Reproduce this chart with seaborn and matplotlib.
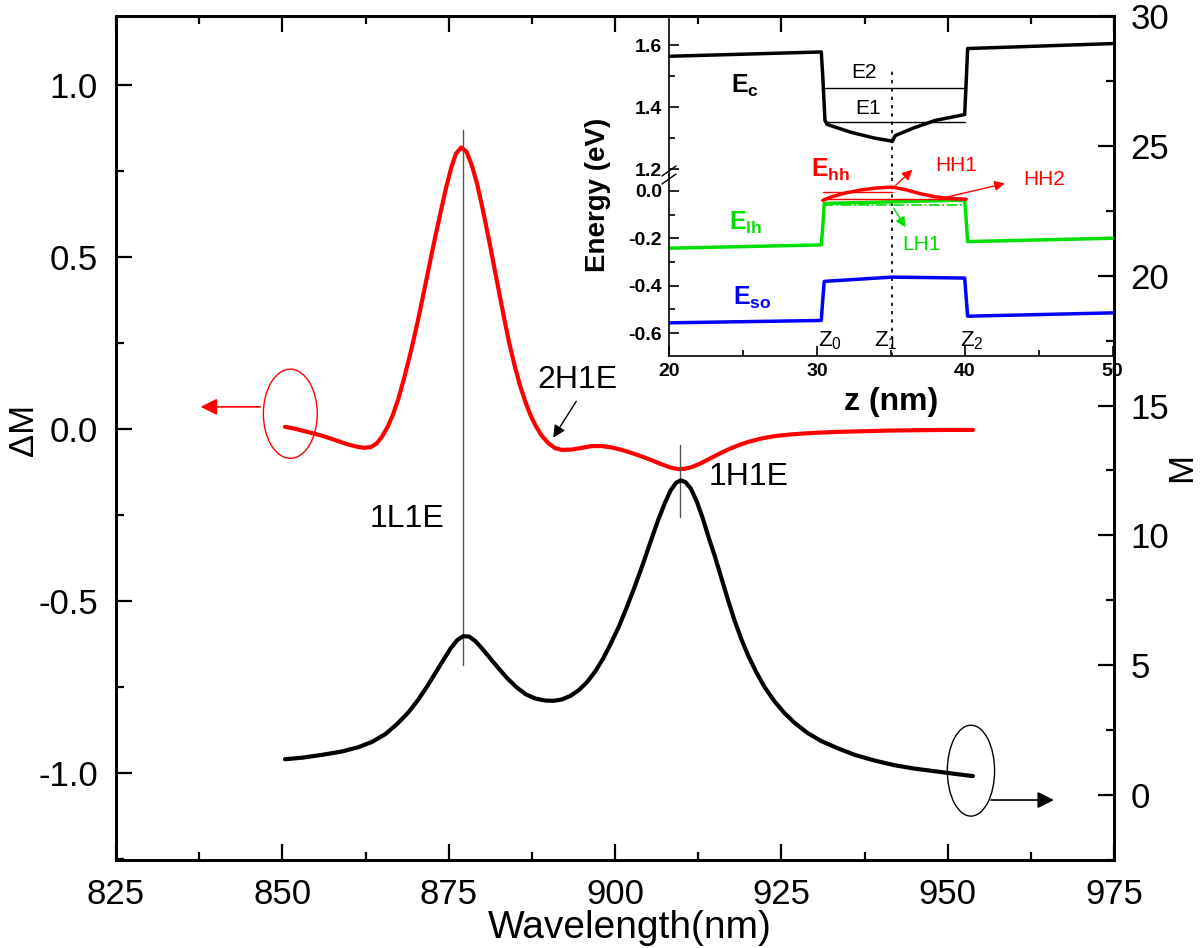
import numpy as np
import matplotlib
matplotlib.use("Agg")
import matplotlib.pyplot as plt
from matplotlib.patches import Ellipse
from matplotlib.lines import Line2D
from matplotlib.ticker import MultipleLocator, FormatStrFormatter
import seaborn as sns

sns.set_theme(style="ticks")
plt.rcParams['font.family'] = ['Liberation Sans', 'DejaVu Sans']
plt.rcParams['mathtext.fontset'] = 'custom'
plt.rcParams['mathtext.rm'] = 'Liberation Sans'
plt.rcParams['mathtext.bf'] = 'Liberation Sans:bold'
plt.rcParams['mathtext.it'] = 'Liberation Sans:italic'
for key in ('text.color', 'axes.labelcolor', 'xtick.color', 'ytick.color', 'axes.edgecolor'):
    plt.rcParams[key] = 'black'

# ---- main spectra ----
wl_dm = [850.4, 852.0, 854.0, 856.0, 858.0, 859.5, 861.0, 862.3, 863.3, 864.2,
         865.0, 865.8, 866.6, 867.4, 868.2, 869.0, 869.8, 870.6, 871.4, 872.2,
         873.0, 873.8, 874.6, 875.4, 876.1, 876.9, 877.7, 878.5, 879.3, 880.1,
         880.9, 881.7, 882.5, 883.3, 884.1, 884.9, 885.7, 886.5, 887.3, 888.1,
         889.0, 890.0, 891.0, 892.0, 893.5, 895.0, 896.5, 898.0, 899.5, 901.0,
         902.5, 904.0, 905.5, 907.0, 908.3, 909.5, 910.5, 911.7, 913.0, 914.3,
         915.6, 917.0, 918.5, 920.0, 922.0, 924.0, 926.5, 929.5, 933.0, 937.0,
         941.0, 945.0, 949.5, 953.8]
delta_m = [0.006, 0.000, -0.010, -0.020, -0.033, -0.043, -0.051, -0.055, -0.053, -0.042,
           -0.022, 0.005, 0.040, 0.085, 0.140, 0.200, 0.265, 0.335, 0.410, 0.485,
           0.560, 0.630, 0.700, 0.760, 0.800, 0.818, 0.805, 0.765, 0.710, 0.640,
           0.565, 0.485, 0.405, 0.325, 0.250, 0.185, 0.128, 0.080, 0.040, 0.008,
           -0.020, -0.042, -0.056, -0.061, -0.060, -0.055, -0.050, -0.050, -0.054, -0.061,
           -0.070, -0.080, -0.091, -0.103, -0.112, -0.117, -0.116, -0.110, -0.099, -0.086,
           -0.073, -0.060, -0.048, -0.038, -0.028, -0.021, -0.016, -0.012, -0.009, -0.007,
           -0.005, -0.004, -0.003, -0.003]

wl_m = [850.4, 853.0, 856.0, 859.0, 861.5, 863.5, 865.5, 867.3, 869.0, 870.5,
        871.8, 873.0, 874.2, 875.3, 876.3, 877.2, 878.1, 879.0, 880.0, 881.2,
        882.5, 883.8, 885.2, 886.6, 888.0, 889.5, 890.8, 892.0, 893.3, 894.6,
        895.8, 897.0, 898.2, 899.4, 900.6, 901.8, 903.0, 904.2, 905.4, 906.5,
        907.5, 908.4, 909.2, 909.9, 910.6, 911.4, 912.3, 913.2, 914.1, 915.0,
        916.0, 917.0, 918.0, 919.0, 920.0, 921.2, 922.5, 924.0, 925.5, 927.0,
        929.0, 931.0, 933.5, 936.0, 939.0, 942.0, 945.0, 948.0, 951.0, 953.8]
m_val = [1.38, 1.44, 1.55, 1.68, 1.85, 2.05, 2.35, 2.75, 3.20, 3.70,
         4.20, 4.70, 5.20, 5.65, 5.97, 6.12, 6.10, 5.93, 5.65, 5.28,
         4.88, 4.50, 4.15, 3.88, 3.72, 3.64, 3.63, 3.68, 3.82, 4.05,
         4.35, 4.75, 5.25, 5.85, 6.50, 7.25, 8.05, 8.90, 9.80, 10.60,
         11.25, 11.75, 12.03, 12.12, 12.05, 11.80, 11.30, 10.65, 9.90, 9.20,
         8.35, 7.50, 6.70, 6.00, 5.38, 4.75, 4.15, 3.60, 3.15, 2.78,
         2.38, 2.08, 1.80, 1.55, 1.33, 1.15, 1.02, 0.92, 0.82, 0.73]

# transition markers
trans_names = ["1L1E", "2H1E", "1H1E"]
trans_wl = [877.2, 891.0, 909.8]

# ---- inset band profile ----
z_c = [20, 30.3, 30.4, 30.55, 30.7, 32.3, 33.9, 34.9, 35.1, 35.3, 36.5, 38.0, 40.0, 40.1, 40.2, 50]
e_c = [1.564, 1.578, 1.50, 1.357, 1.344, 1.319, 1.300, 1.292, 1.289, 1.308, 1.332, 1.357, 1.376, 1.48, 1.589, 1.605]
z_hh = [30.4, 31.0, 32.0, 33.0, 34.0, 35.1, 36.0, 37.0, 38.0, 39.0, 40.1]
e_hh = [-0.040, -0.025, -0.008, 0.004, 0.012, 0.016, 0.005, -0.012, -0.025, -0.032, -0.035]
z_lh = [20, 30.3, 30.4, 30.5, 40.0, 40.1, 40.2, 50]
e_lh = [-0.242, -0.228, -0.15, -0.053, -0.039, -0.12, -0.214, -0.200]
z_so = [20, 30.3, 30.4, 30.5, 35.1, 40.0, 40.1, 40.2, 50]
e_so = [-0.557, -0.547, -0.46, -0.382, -0.364, -0.368, -0.45, -0.529, -0.515]
z0, z1, z2 = 30.4, 35.1, 40.1
level_e1, level_e2 = 1.351, 1.463
level_hh1, level_hh2, level_lh1 = -0.004, -0.036, -0.060

fig = plt.figure(figsize=(12, 9.48), dpi=100)
ax = fig.add_axes([116 / 1200, 88 / 948, 998 / 1200, 844 / 948])
ax2 = ax.twinx()

sns.lineplot(x=wl_dm, y=delta_m, ax=ax, color="#ff0000", lw=3, sort=False, estimator=None)
sns.lineplot(x=wl_m, y=m_val, ax=ax2, color="black", lw=3, sort=False, estimator=None)

ax.set_xlim(825, 975)
ax.set_ylim(-1.253, 1.2)
ax2.set_ylim(-2.5, 30)
ax.xaxis.set_major_locator(MultipleLocator(25))
ax.xaxis.set_minor_locator(MultipleLocator(12.5))
ax.yaxis.set_major_locator(MultipleLocator(0.5))
ax.yaxis.set_minor_locator(MultipleLocator(0.25))
ax.yaxis.set_major_formatter(FormatStrFormatter('%.1f'))
ax2.yaxis.set_major_locator(MultipleLocator(5))
ax2.yaxis.set_minor_locator(MultipleLocator(2.5))

for a in (ax, ax2):
    for s in a.spines.values():
        s.set_linewidth(2)
        s.set_color("black")
ax.tick_params(axis='both', which='major', direction='in', length=11.5, width=1.6,
               labelsize=25, pad=13, top=True, colors='black')
ax.tick_params(axis='both', which='minor', direction='in', length=6, width=1.6, top=True)
ax.tick_params(axis='y', right=False, which='both')
ax2.tick_params(axis='y', which='major', direction='in', length=11.5, width=1.6,
                labelsize=25, pad=12)
ax2.tick_params(axis='y', which='minor', direction='in', length=6, width=1.6)

ax.set_xlabel("Wavelength(nm)", fontsize=28)
ax.xaxis.set_label_coords(0.515, -0.059)
ax.set_ylabel("ΔM", fontsize=25)
ax.yaxis.set_label_coords(-0.076, 0.51)
ax2.set_ylabel("M", fontsize=25)
ax2.yaxis.set_label_coords(1.051, 0.465)

# transition lines and labels
ax.plot([trans_wl[0], trans_wl[0]], [-0.687, 0.870], color="#555555", lw=1)
ax.plot([trans_wl[2], trans_wl[2]], [-0.047, -0.256], color="#555555", lw=1)
ax.text(868.7, -0.262, trans_names[0], fontsize=23, ha='center', va='center')
ax.text(894.3, 0.143, trans_names[1], fontsize=23, ha='center', va='center')
ax.text(920.1, -0.14, trans_names[2], fontsize=23, ha='center', va='center')
ax.annotate("", xy=(890.5, -0.032), xytext=(894.4, 0.087),
            arrowprops=dict(arrowstyle="-|>", color="black", lw=1, mutation_scale=18))

# axis indicators
ax.add_patch(Ellipse((851.2, 0.044), 8.1, 0.259, fill=False, ec="#ff0000", lw=1))
ax.annotate("", xy=(837.3, 0.064), xytext=(847.1, 0.064),
            arrowprops=dict(arrowstyle="-|>", color="#ff0000", lw=1.2, mutation_scale=25))
ax2.add_patch(Ellipse((953.5, 0.94), 7.1, 3.5, fill=False, ec="black", lw=1))
ax2.annotate("", xy=(966.4, -0.19), xytext=(956.1, -0.19),
             arrowprops=dict(arrowstyle="-|>", color="black", lw=1.2, mutation_scale=25))

# ---- inset (broken energy axis) ----
ins_l, ins_w = 669 / 1200, (1114 - 669) / 1200
brk = (948 - 175) / 948
up = fig.add_axes([ins_l, brk, ins_w, (175 - 16) / 948])
lo = fig.add_axes([ins_l, (948 - 356) / 948, ins_w, (356 - 175) / 948])
for a in (up, lo):
    a.set_facecolor("none")
    a.set_xlim(20, 50.1)
    for s in a.spines.values():
        s.set_linewidth(1.2)
    a.tick_params(which='major', direction='in', length=7, width=1.2, labelsize=14, pad=5)
    a.tick_params(which='minor', direction='in', length=4, width=1.2)
    a.xaxis.set_major_locator(MultipleLocator(10))
    a.xaxis.set_minor_locator(MultipleLocator(5))
    a.yaxis.set_major_locator(MultipleLocator(0.2))
    a.yaxis.set_minor_locator(MultipleLocator(0.1))
    a.yaxis.set_major_formatter(FormatStrFormatter('%.1f'))
    a.spines['right'].set_visible(False)
    a.tick_params(which='both', top=False, right=False)
up.set_ylim(1.181, 1.694)
lo.set_ylim(-0.697, 0.067)
up.spines['bottom'].set_visible(False)
lo.spines['top'].set_visible(False)
up.tick_params(axis='x', which='both', bottom=False, labelbottom=False)
for lab in up.get_yticklabels() + lo.get_yticklabels() + lo.get_xticklabels():
    lab.set_fontweight('bold')

sns.lineplot(x=z_c, y=e_c, ax=up, color="black", lw=2.5, sort=False, estimator=None)
up.plot([z0 + 0.15, z2 - 0.05], [level_e2, level_e2], color="black", lw=1)
up.plot([z0 + 0.15, z2 - 0.05], [level_e1, level_e1], color="black", lw=1)
up.plot([z1, z1], [1.181, 1.52], color="black", lw=1.2, ls=(0, (2, 3)))
lo.plot([z1, z1], [-0.697, 0.067], color="black", lw=1.2, ls=(0, (2, 3)))

sns.lineplot(x=z_so, y=e_so, ax=lo, color="#0000ff", lw=2.5, sort=False, estimator=None)
sns.lineplot(x=z_lh, y=e_lh, ax=lo, color="#00e000", lw=2.5, sort=False, estimator=None)
lo.plot([z0, z2], [level_lh1, level_lh1], color="#00e000", lw=1.2, ls='-.')
lo.plot([z0, z2], [level_hh2, level_hh2], color="#ff0000", lw=1)
lo.plot([z0, z1], [level_hh1, level_hh1], color="#ff0000", lw=1)
sns.lineplot(x=z_hh, y=e_hh, ax=lo, color="#ff0000", lw=2.5, sort=False, estimator=None)

up.text(33.2, 1.513, "E2", fontsize=15, ha='center', va='center')
up.text(33.45, 1.397, "E1", fontsize=15, ha='center', va='center')
up.text(24.2, 1.445, r"$\mathbf{E}_{\mathbf{c}}$", fontsize=18, ha='left', va='baseline')
lo.text(29.6, 0.059, r"$\mathbf{E}_{\mathbf{hh}}$", fontsize=18, ha='left', va='baseline',
        color="#ff0000")
lo.text(24.05, -0.164, r"$\mathbf{E}_{\mathbf{lh}}$", fontsize=18, ha='left', va='baseline',
        color="#00e000")
lo.text(24.3, -0.48, r"$\mathbf{E}_{\mathbf{so}}$", fontsize=18, ha='left', va='baseline',
        color="#0000ff")
for zz, lab in [(30.1, r"Z$_0$"), (33.9, r"Z$_1$"), (39.7, r"Z$_2$")]:
    lo.text(zz, -0.657, lab, fontsize=16, ha='left', va='baseline')

lo.text(39.4, 0.109, "HH1", fontsize=15, color="#ff0000", ha='center', va='center')
lo.annotate("", xy=(36.6, 0.097), xytext=(35.2, 0.016), annotation_clip=False,
            arrowprops=dict(arrowstyle="-|>", color="#ff0000", lw=1, mutation_scale=15))
lo.text(45.4, 0.05, "HH2", fontsize=15, color="#ff0000", ha='center', va='center')
lo.annotate("", xy=(42.9, 0.034), xytext=(38.0, -0.038), annotation_clip=False,
            arrowprops=dict(arrowstyle="-|>", color="#ff0000", lw=1, mutation_scale=15))
lo.text(37.1, -0.227, "LH1", fontsize=15, color="#00e000", ha='center', va='center')
lo.annotate("", xy=(36.1, -0.164), xytext=(35.1, -0.063), annotation_clip=False,
            arrowprops=dict(arrowstyle="-|>", color="#00e000", lw=1, mutation_scale=15))

lo.set_xlabel("z (nm)", fontsize=23, fontweight='bold', labelpad=5)
fig.text(598 / 1200, 1 - 195 / 948, "Energy (eV)", fontsize=20, fontweight='bold',
         rotation=90, ha='center', va='center')

# break marks on left spine
for dy in (-4, 4):
    yc = brk + dy / 948
    fig.lines.append(Line2D([ins_l - 7 / 1200, ins_l + 7 / 1200],
                            [yc - 5 / 948, yc + 5 / 948],
                            color="black", lw=1, transform=fig.transFigure))

fig.savefig("out.png", dpi=100)
